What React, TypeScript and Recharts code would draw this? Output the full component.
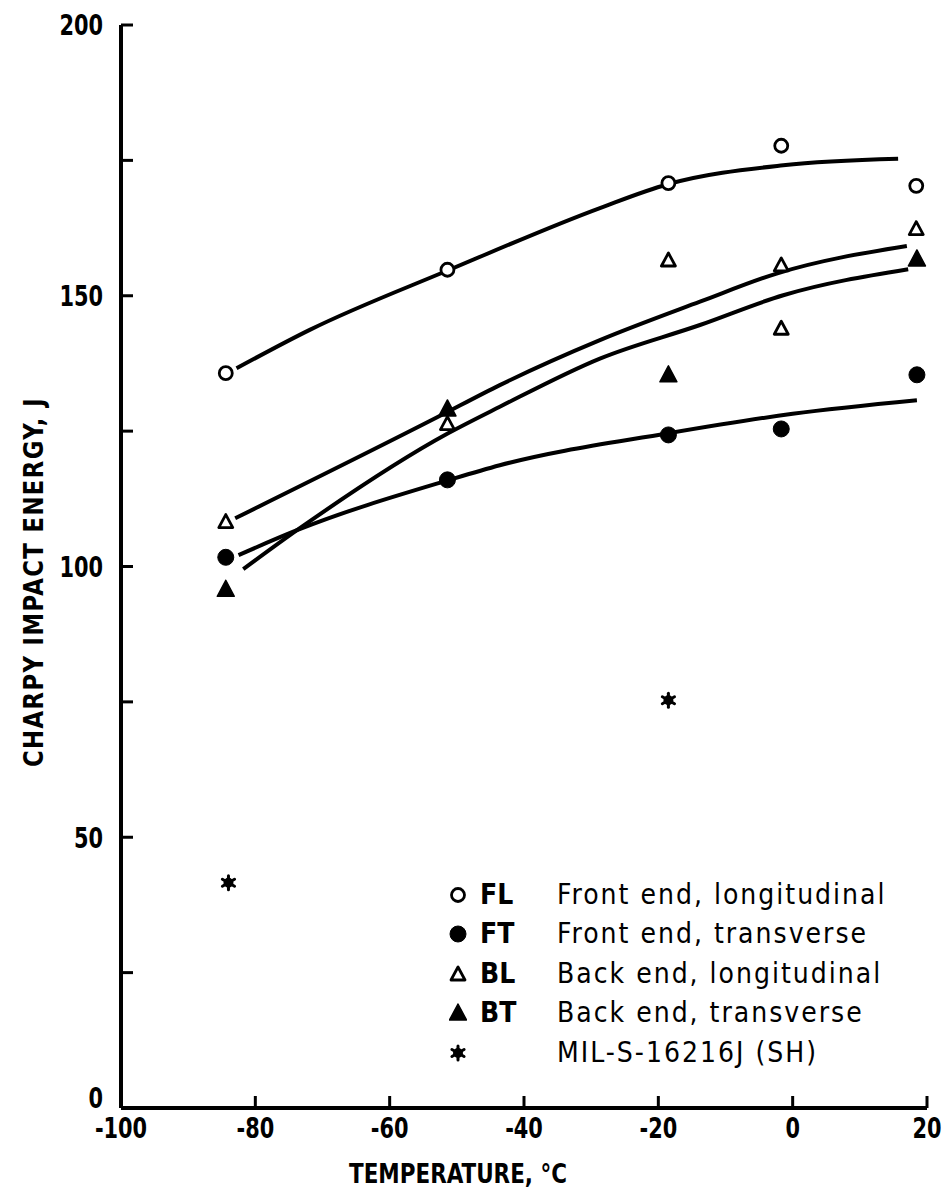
import React from 'react';
import { ComposedChart, XAxis, YAxis, Line, Scatter } from 'recharts';

const xTicks = [-100, -80, -60, -40, -20, 0, 20];
const yTicks = [0, 25, 50, 75, 100, 125, 150, 175, 200];
const yLabelTicks = [0, 50, 100, 150, 200];

// measured points
const flPoints = [
  { x: -84.4, y: 135.7 }, { x: -51.4, y: 154.8 }, { x: -18.5, y: 170.8 }, { x: -1.7, y: 177.7 }, { x: 18.4, y: 170.3 },
];
const ftPoints = [
  { x: -84.4, y: 101.7 }, { x: -51.4, y: 116.0 }, { x: -18.5, y: 124.3 }, { x: -1.7, y: 125.4 }, { x: 18.5, y: 135.4 },
];
const blPoints = [
  { x: -84.4, y: 108.3 }, { x: -51.4, y: 126.4 }, { x: -18.5, y: 156.6 }, { x: -1.7, y: 155.7 }, { x: -1.7, y: 144.0 }, { x: 18.4, y: 162.4 },
];
const btPoints = [
  { x: -84.4, y: 95.8 }, { x: -51.4, y: 129.1 }, { x: -18.5, y: 135.4 }, { x: 18.5, y: 156.8 },
];
const milPoints = [
  { x: -84.0, y: 41.6 }, { x: -18.5, y: 75.3 },
];

// fitted curves
const flCurve = [
  { x: -82.8, y: 136.6 }, { x: -71.9, y: 143.7 }, { x: -51.1, y: 154.8 }, { x: -28.7, y: 166.2 },
  { x: -18.6, y: 170.6 }, { x: -1.4, y: 174.1 }, { x: 15.7, y: 175.3 },
];
const blCurve = [
  { x: -83.0, y: 108.9 }, { x: -53.0, y: 127.5 }, { x: -43.6, y: 133.5 }, { x: -28.7, y: 141.8 },
  { x: -13.8, y: 148.9 }, { x: -2.4, y: 154.1 }, { x: 17.0, y: 159.2 },
];
const btCurve = [
  { x: -81.8, y: 99.5 }, { x: -73.8, y: 106.7 }, { x: -51.3, y: 124.6 }, { x: -43.6, y: 129.5 },
  { x: -28.7, y: 138.4 }, { x: -13.8, y: 144.6 }, { x: -1.4, y: 150.1 }, { x: 17.2, y: 154.9 },
];
const ftCurve = [
  { x: -82.5, y: 102.1 }, { x: -73.8, y: 106.7 }, { x: -51.1, y: 116.0 }, { x: -43.6, y: 118.7 },
  { x: -18.5, y: 124.6 }, { x: 0.0, y: 128.2 }, { x: 18.5, y: 130.7 },
];

const legendItems = [
  { sym: 'openCircle', code: 'FL', text: 'Front end, longitudinal' },
  { sym: 'filledCircle', code: 'FT', text: 'Front end, transverse' },
  { sym: 'openTriangle', code: 'BL', text: 'Back end, longitudinal' },
  { sym: 'filledTriangle', code: 'BT', text: 'Back end, transverse' },
  { sym: 'star', code: '', text: 'MIL-S-16216J (SH)' },
];

const FONT = "'DejaVu Sans', sans-serif";
const STRETCH = 'condensed';

const Sym = ({ kind, cx, cy }: { kind: string; cx: number; cy: number }) => {
  if (kind === 'openCircle') return <circle cx={cx} cy={cy} r={6.5} fill="#fff" stroke="#000" strokeWidth={2.8} />;
  if (kind === 'filledCircle') return <circle cx={cx} cy={cy} r={8} fill="#000" stroke="#000" strokeWidth={1} />;
  if (kind === 'openTriangle')
    return <polygon points={`${cx},${cy - 7} ${cx - 7},${cy + 6} ${cx + 7},${cy + 6}`} fill="#fff" stroke="#000" strokeWidth={2.8} strokeLinejoin="round" />;
  if (kind === 'filledTriangle')
    return <polygon points={`${cx},${cy - 9} ${cx - 8.5},${cy + 7} ${cx + 8.5},${cy + 7}`} fill="#000" stroke="#000" strokeWidth={1.5} strokeLinejoin="round" />;
  const r = 7;
  return (
    <g stroke="#000" strokeWidth={3} strokeLinecap="round">
      <line x1={cx} y1={cy - r} x2={cx} y2={cy + r} />
      <line x1={cx - r * 0.87} y1={cy - r * 0.5} x2={cx + r * 0.87} y2={cy + r * 0.5} />
      <line x1={cx - r * 0.87} y1={cy + r * 0.5} x2={cx + r * 0.87} y2={cy - r * 0.5} />
      <circle cx={cx} cy={cy} r={3.5} fill="#000" />
    </g>
  );
};

const shapeOf = (kind: string) => (p: any) => <Sym kind={kind} cx={p.cx} cy={p.cy} />;

const YLabel = (props: any) => {
  const cy = 574;
  const cx = 25;
  return (
    <text x={cx} y={cy} transform={`rotate(-90 ${cx} ${cy})`} textAnchor="middle" dominantBaseline="central"
      fontFamily={FONT} fontStretch={STRETCH} fontWeight="bold" fontSize={27} letterSpacing={1.5}
      textLength={370} lengthAdjust="spacingAndGlyphs" fill="#000">
      CHARPY IMPACT ENERGY, J
    </text>
  );
};

const XLabel = (props: any) => {
  return (
    <text x={450} y={1165} textAnchor="middle" dominantBaseline="central"
      fontFamily={FONT} fontStretch={STRETCH} fontWeight="bold" fontSize={27}
      textLength={218} lengthAdjust="spacingAndGlyphs" fill="#000">
      TEMPERATURE, °C
    </text>
  );
};

const XTick = (props: any) => {
  const { x, y, payload } = props;
  return (
    <text x={0} y={0} transform={`translate(${x},${y}) scale(0.8,1)`} textAnchor="middle" dy="0.72em"
      fontFamily={FONT} fontStretch={STRETCH} fontWeight="bold" fontSize={29} fill="#000">
      {payload.value}
    </text>
  );
};

const YTick = (props: any) => {
  const { x, y, payload } = props;
  if (!yLabelTicks.includes(payload.value)) return null;
  const yy = payload.value === 0 ? y - 10 : y;
  return (
    <text x={0} y={0} transform={`translate(${x},${yy}) scale(0.8,1)`} textAnchor="end" dy="0.36em"
      fontFamily={FONT} fontStretch={STRETCH} fontWeight="bold" fontSize={29} fill="#000">
      {payload.value}
    </text>
  );
};

const LegendBox = () => (
  <div style={{ position: 'absolute', left: 441, top: 867, fontFamily: FONT, fontStretch: STRETCH, fontSize: 28, color: '#000', letterSpacing: 2, lineHeight: 1 }}>
    {legendItems.map((it) => (
      <div key={it.text} style={{ display: 'flex', alignItems: 'center', height: 39.5, whiteSpace: 'nowrap' }}>
        <svg width={18} height={24} style={{ marginRight: 13 }}>
          <Sym kind={it.sym} cx={9} cy={12} />
        </svg>
        <span style={{ width: 77, fontWeight: 'bold', letterSpacing: 0 }}>{it.code}</span>
        <span>{it.text}</span>
      </div>
    ))}
  </div>
);

export default function App() {
  return (
    <div style={{ position: 'relative', width: 943, height: 1190 }}>
      <ComposedChart width={943} height={1190} margin={{ top: 17, right: 24, bottom: 0, left: 0 }}>
        <XAxis xAxisId="b" type="number" dataKey="x" domain={[-100, 20]} ticks={xTicks} orientation="bottom" height={90}
          axisLine={{ stroke: '#000', strokeWidth: 4 }} tickLine={{ stroke: '#000', strokeWidth: 3 }} tickSize={-12} tickMargin={21}
          tick={<XTick />} allowDataOverflow label={<XLabel />} />
        <XAxis xAxisId="t" type="number" dataKey="x" domain={[-100, 20]} ticks={xTicks} orientation="top" height={0}
          axisLine={{ stroke: '#000', strokeWidth: 4 }} tickLine={{ stroke: '#000', strokeWidth: 3 }} tickSize={-12} tick={false} />
        <YAxis yAxisId="l" type="number" domain={[0, 200]} ticks={yTicks} orientation="left" width={113}
          axisLine={{ stroke: '#000', strokeWidth: 4 }} tickLine={{ stroke: '#000', strokeWidth: 3 }} tickSize={-12} tickMargin={30}
          tick={<YTick />} label={<YLabel />} />
        <YAxis yAxisId="r" type="number" domain={[0, 200]} ticks={yTicks} orientation="right" width={0}
          axisLine={{ stroke: '#000', strokeWidth: 4 }} tickLine={{ stroke: '#000', strokeWidth: 3 }} tickSize={-12} tick={false} />

        <Line xAxisId="b" yAxisId="l" data={flCurve} dataKey="y" type="monotone" stroke="#000" strokeWidth={4} dot={false} isAnimationActive={false} />
        <Line xAxisId="b" yAxisId="l" data={blCurve} dataKey="y" type="monotone" stroke="#000" strokeWidth={4} dot={false} isAnimationActive={false} />
        <Line xAxisId="b" yAxisId="l" data={btCurve} dataKey="y" type="monotone" stroke="#000" strokeWidth={4} dot={false} isAnimationActive={false} />
        <Line xAxisId="b" yAxisId="l" data={ftCurve} dataKey="y" type="monotone" stroke="#000" strokeWidth={4} dot={false} isAnimationActive={false} />

        <Scatter xAxisId="b" yAxisId="l" data={flPoints} dataKey="y" shape={shapeOf('openCircle')} isAnimationActive={false} />
        <Scatter xAxisId="b" yAxisId="l" data={ftPoints} dataKey="y" shape={shapeOf('filledCircle')} isAnimationActive={false} />
        <Scatter xAxisId="b" yAxisId="l" data={blPoints} dataKey="y" shape={shapeOf('openTriangle')} isAnimationActive={false} />
        <Scatter xAxisId="b" yAxisId="l" data={btPoints} dataKey="y" shape={shapeOf('filledTriangle')} isAnimationActive={false} />
        <Scatter xAxisId="b" yAxisId="l" data={milPoints} dataKey="y" shape={shapeOf('star')} isAnimationActive={false} />
      </ComposedChart>
      <LegendBox />
    </div>
  );
}
